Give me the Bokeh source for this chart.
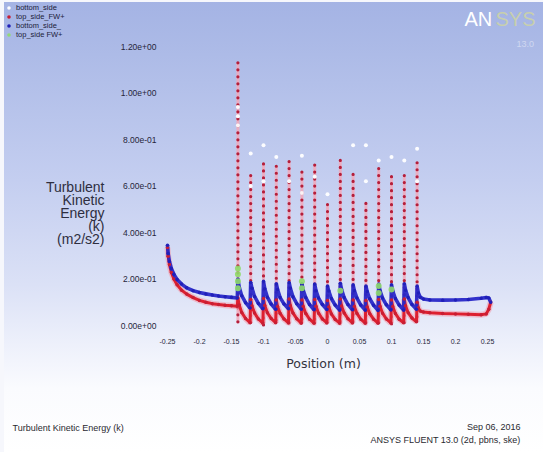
from bokeh.plotting import figure
from bokeh.models import Range1d, FixedTicker, Label, Legend, LegendItem
from bokeh.embed import file_html
from bokeh.resources import INLINE

# ---------------- data ----------------
x_ticks = [-0.25, -0.2, -0.15, -0.1, -0.05, 0.0, 0.05, 0.1, 0.15, 0.2, 0.25]
x_tick_labels = ["-0.25", "-0.2", "-0.15", "-0.1", "-0.05", "0", "0.05", "0.1", "0.15", "0.2", "0.25"]
y_ticks = [0.0, 0.2, 0.4, 0.6, 0.8, 1.0, 1.2]
y_tick_labels = ["0.00e+00", "2.00e-01", "4.00e-01", "6.00e-01", "8.00e-01", "1.00e+00", "1.20e+00"]

series_names = ["bottom_side", "top_side_FW+", "bottom_side_", "top_side FW+"]

# fin (wall) columns of points: position, top and bottom of the column
fin_x = [-0.14, -0.12, -0.10, -0.08, -0.06, -0.04, -0.02, 0.00, 0.02, 0.04, 0.06, 0.08, 0.10, 0.12, 0.14]
fin_top = [1.13, 0.645, 0.695, 0.685, 0.705, 0.66, 0.69, 0.52, 0.71, 0.65, 0.525, 0.675, 0.64, 0.645, 0.70]
fin_bottom = [0.01, 0.01, 0.0, 0.01, 0.0, 0.01, 0.0, 0.01, 0.0, 0.01, 0.0, 0.01, 0.0, 0.01, 0.02]

# white points (bottom_side)
white_x = [-0.14, -0.14, -0.14, -0.12, -0.12, -0.10, -0.10, -0.08, -0.06, -0.04, -0.04, -0.02,
           0.00, 0.04, 0.06, 0.06, 0.08, 0.10, 0.12, 0.14, 0.14]
white_y = [0.94, 0.90, 0.86, 0.74, 0.60, 0.775, 0.62, 0.725, 0.62, 0.73, 0.57, 0.64,
           0.565, 0.775, 0.775, 0.62, 0.71, 0.725, 0.71, 0.76, 0.62]

# green points
green_x = [-0.14, -0.14, -0.14, -0.14, -0.04, -0.04, 0.02, 0.08, 0.08, 0.10]
green_y = [0.16, 0.19, 0.22, 0.245, 0.16, 0.19, 0.15, 0.14, 0.17, 0.155]

# curves along the channel
curve_x = [
    -0.250, -0.249, -0.247, -0.244, -0.240, -0.235, -0.228, -0.220, -0.210, -0.200, -0.190, -0.180, -0.170, -0.160, -0.150, -0.141,
    -0.140, -0.138, -0.134, -0.128, -0.121,
    -0.120, -0.118, -0.114, -0.108, -0.101,
    -0.100, -0.098, -0.094, -0.088, -0.081,
    -0.080, -0.078, -0.074, -0.068, -0.061,
    -0.060, -0.058, -0.054, -0.048, -0.041,
    -0.040, -0.038, -0.034, -0.028, -0.021,
    -0.020, -0.018, -0.014, -0.008, -0.001,
    0.000, 0.002, 0.006, 0.012, 0.019,
    0.020, 0.022, 0.026, 0.032, 0.039,
    0.040, 0.042, 0.046, 0.052, 0.059,
    0.060, 0.062, 0.066, 0.072, 0.079,
    0.080, 0.082, 0.086, 0.092, 0.099,
    0.100, 0.102, 0.106, 0.112, 0.119,
    0.120, 0.122, 0.126, 0.132, 0.139,
    0.140, 0.142, 0.145, 0.150, 0.160, 0.180, 0.200, 0.220, 0.240, 0.248, 0.252, 0.255]

blue_y = [
    0.345, 0.310, 0.275, 0.245, 0.220, 0.198, 0.178, 0.162, 0.150, 0.142, 0.136, 0.131, 0.127, 0.124, 0.121, 0.118,
    0.200, 0.165, 0.128, 0.098, 0.075,
    0.185, 0.160, 0.125, 0.095, 0.072,
    0.190, 0.158, 0.122, 0.092, 0.070,
    0.180, 0.155, 0.120, 0.093, 0.072,
    0.185, 0.160, 0.124, 0.094, 0.070,
    0.180, 0.152, 0.120, 0.090, 0.068,
    0.178, 0.150, 0.118, 0.090, 0.069,
    0.170, 0.148, 0.116, 0.088, 0.066,
    0.182, 0.155, 0.120, 0.090, 0.068,
    0.175, 0.150, 0.118, 0.088, 0.066,
    0.170, 0.146, 0.115, 0.087, 0.065,
    0.178, 0.150, 0.118, 0.089, 0.067,
    0.175, 0.148, 0.116, 0.088, 0.066,
    0.180, 0.152, 0.120, 0.090, 0.070,
    0.170, 0.140, 0.122, 0.114, 0.110, 0.109, 0.110, 0.112, 0.117, 0.120, 0.118, 0.100]

red_y = [
    0.335, 0.298, 0.262, 0.228, 0.200, 0.175, 0.152, 0.135, 0.120, 0.108, 0.100, 0.094, 0.090, 0.087, 0.085, 0.083,
    0.118, 0.088, 0.056, 0.030, 0.012,
    0.112, 0.084, 0.054, 0.028, 0.010,
    0.116, 0.086, 0.055, 0.030, 0.012,
    0.110, 0.082, 0.052, 0.028, 0.011,
    0.114, 0.085, 0.054, 0.029, 0.010,
    0.110, 0.082, 0.052, 0.027, 0.010,
    0.112, 0.083, 0.053, 0.028, 0.011,
    0.108, 0.080, 0.050, 0.026, 0.010,
    0.114, 0.084, 0.054, 0.029, 0.011,
    0.110, 0.082, 0.052, 0.027, 0.010,
    0.108, 0.080, 0.051, 0.027, 0.010,
    0.112, 0.083, 0.053, 0.028, 0.011,
    0.110, 0.082, 0.052, 0.027, 0.012,
    0.114, 0.085, 0.055, 0.032, 0.016,
    0.100, 0.075, 0.062, 0.058, 0.055, 0.052, 0.050, 0.048, 0.046, 0.050, 0.070, 0.100]

# ---------------- figure ----------------
W, H = 543, 452
PX_PER_X = 640.0          # pixels per metre
PX_PER_Y = 232.5          # pixels per m2/s2
X0_PX, Y0_PX = 167, 325   # canvas pixel of (x=-0.25, y=0)
x_start = -0.25 - X0_PX / PX_PER_X
y_start = -(H - Y0_PX) / PX_PER_Y


def X(px):
    return x_start + px / PX_PER_X


def Y(py):
    return (Y0_PX - py) / PX_PER_Y


p = figure(width=W, height=H, output_backend="svg", toolbar_location=None,
           x_range=Range1d(x_start, x_start + W / PX_PER_X),
           y_range=Range1d(y_start, y_start + H / PX_PER_Y),
           min_border=0, min_border_left=0, min_border_right=0, min_border_top=0, min_border_bottom=0,
           background_fill_color=None, border_fill_color=None, outline_line_color=None,
           styles={"background": "linear-gradient(to bottom, #a4b3e4 0%, #adbbe7 12%, #c4cef0 40%, "
                                 "#dbe1f6 63%, #edf0fb 76%, #fafbfe 86%, #ffffff 100%)",
                   "box-shadow": "inset 4px 2px 0 0 #f6f7fc"})

p.grid.visible = False

p.xaxis.ticker = FixedTicker(ticks=x_ticks)
p.xaxis.major_label_overrides = dict(zip(x_ticks, x_tick_labels))
p.yaxis.ticker = FixedTicker(ticks=y_ticks)
p.yaxis.major_label_overrides = dict(zip(y_ticks, y_tick_labels))
p.xaxis.fixed_location = Y(332)
p.yaxis.fixed_location = X(160)
for ax in (p.xaxis, p.yaxis):
    ax.axis_line_color = None
    ax.major_tick_line_color = None
    ax.minor_tick_line_color = None
    ax.major_tick_out = 0
    ax.major_tick_in = 0
    ax.minor_tick_out = 0
    ax.minor_tick_in = 0
    ax.major_label_text_font = "Liberation Sans"
    ax.major_label_text_color = "#26263a"
p.xaxis.major_label_text_font_size = "7px"
p.yaxis.major_label_text_font_size = "8.5px"
p.xaxis.major_label_standoff = 6
p.yaxis.major_label_standoff = 4

# fin columns: pink haze + dotted dark-red points
p.segment(x0=fin_x, y0=fin_top, x1=fin_x, y1=fin_bottom, line_color="#f1a8ba", line_width=3, line_alpha=0.85)
p.segment(x0=fin_x, y0=fin_top, x1=fin_x, y1=fin_bottom, line_color="#b41e3a", line_width=3.2,
          line_dash="0 7", line_cap="round")

# curves
p.line(curve_x, red_y, line_color="#f2a0b0", line_width=6, line_alpha=0.6)
p.line(curve_x, red_y, line_color="#dd2030", line_width=3)
p.line(curve_x, blue_y, line_color="#2828c8", line_width=3.6, line_alpha=0.95)
red_pts = p.scatter(curve_x, red_y, marker="circle", size=3.5, fill_color="#c81e34", line_color=None)
blue_pts = p.scatter(curve_x, blue_y, marker="circle", size=3.5, fill_color="#2020b8", line_color=None)
green_pts = p.scatter(green_x, green_y, marker="circle", size=6, fill_color="#8fdc6a", line_color=None, fill_alpha=0.9)
white_pts = p.scatter(white_x, white_y, marker="circle", size=4, fill_color="#ffffff", line_color=None, fill_alpha=0.95)

LEG_H = 38
legend = Legend(items=[LegendItem(label=series_names[0], renderers=[white_pts]),
                       LegendItem(label=series_names[1], renderers=[red_pts]),
                       LegendItem(label=series_names[2], renderers=[blue_pts]),
                       LegendItem(label=series_names[3], renderers=[green_pts])],
                location=(4, H - LEG_H - 1), orientation="vertical",
                background_fill_alpha=0, border_line_color=None,
                label_text_font="Liberation Sans", label_text_font_size="7.5px", label_text_color="#1c1c3a",
                glyph_height=9, glyph_width=9, label_height=9, spacing=0, padding=1, margin=0,
                label_standoff=3)
p.add_layout(legend)


def lab(px, py, text, size, color, align="left", font="Liberation Sans", alpha=1.0):
    p.add_layout(Label(x=X(px), y=Y(py), text=text, text_font=font, text_font_size=f"{size}px",
                       text_color=color, text_align=align, text_baseline="middle", text_alpha=alpha))


# x axis title
lab(323, 363, "Position (m)", 12.5, "#333340", align="center", font="DejaVu Sans")

# y axis title (right aligned, five lines)
for i, t in enumerate(["Turbulent", "Kinetic", "Energy", "(k)", "(m2/s2)"]):
    lab(104, 186 + 13 * i, t, 14, "#2e2e40", align="right")

# footer texts
lab(12, 427, "Turbulent Kinetic Energy (k)", 9, "#2a2a30")
lab(520, 426, "Sep 06, 2016", 9, "#2a2a30", align="right")
lab(520, 439, "ANSYS FLUENT 13.0 (2d, pbns, ske)", 9, "#2a2a30", align="right")

# ANSYS logo
lab(464, 18, "AN", 20, "#ffffff")
lab(495, 18, "SYS", 20, "#d2d89c", alpha=0.75)
lab(516, 43, "13.0", 9, "#e8ecf8", alpha=0.6)

open("out.html", "w").write(file_html(p, INLINE))
